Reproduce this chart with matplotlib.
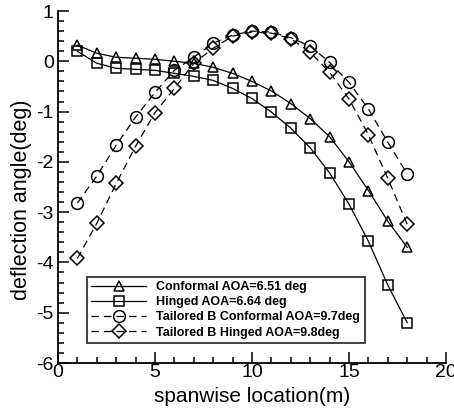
import matplotlib
matplotlib.use("Agg")
import matplotlib.pyplot as plt
from matplotlib.ticker import MultipleLocator

plt.rcParams['font.family'] = ['Liberation Sans', 'DejaVu Sans']
plt.rcParams['axes.unicode_minus'] = False

span = [1, 2, 3, 4, 5, 6, 7, 8, 9, 10, 11, 12, 13, 14, 15, 16, 17, 18]
conformal = [0.32, 0.16, 0.08, 0.06, 0.04, 0.0, -0.04, -0.12, -0.24, -0.40, -0.59,
             -0.84, -1.14, -1.50, -2.00, -2.57, -3.18, -3.70]
hinged = [0.20, -0.04, -0.14, -0.16, -0.18, -0.24, -0.30, -0.38, -0.54, -0.74, -1.01,
          -1.33, -1.72, -2.22, -2.84, -3.58, -4.45, -5.20]
tb_conformal = [-2.82, -2.28, -1.67, -1.11, -0.62, -0.18, 0.08, 0.36, 0.52, 0.60, 0.58,
                0.47, 0.30, -0.02, -0.42, -0.95, -1.61, -2.24]
tb_hinged = [-3.92, -3.22, -2.43, -1.69, -1.02, -0.54, -0.04, 0.26, 0.50, 0.58, 0.56,
             0.45, 0.18, -0.22, -0.75, -1.46, -2.33, -3.24]

labels = ["Conformal AOA=6.51 deg", "Hinged AOA=6.64 deg",
          "Tailored B Conformal AOA=9.7deg", "Tailored B Hinged AOA=9.8deg"]

fig = plt.figure(figsize=(4.54, 4.08), dpi=100)
ax = fig.add_axes([58/454, 1-363/408, 388/454, 352/408])

common = dict(color='black', lw=0.9, mfc='none', mec='black', mew=1.1)
ax.plot(span, conformal, marker='^', ms=7.5, ls='-', label=labels[0], **common)
ax.plot(span, hinged, marker='s', ms=7.5, ls='-', label=labels[1], **common)
ax.plot(span, tb_conformal, marker='o', ms=8.5, ls=(0, (6, 4)), label=labels[2], **common)
ax.plot(span, tb_hinged, marker='D', ms=7, ls=(0, (6, 4)), label=labels[3], **common)

ax.set_xlim(0, 20)
ax.set_ylim(-6, 1)
ax.xaxis.set_major_locator(MultipleLocator(5))
ax.xaxis.set_minor_locator(MultipleLocator(1))
ax.yaxis.set_major_locator(MultipleLocator(1))
ax.yaxis.set_minor_locator(MultipleLocator(0.2))
ax.spines['top'].set_visible(False)
ax.spines['right'].set_visible(False)
for s in ('left', 'bottom'):
    ax.spines[s].set_linewidth(1.3)
ax.tick_params(which='both', direction='in', width=1.1, labelsize=14)
ax.tick_params(which='major', length=8)
ax.tick_params(which='minor', length=4)
ax.tick_params(axis='x', pad=1)
ax.tick_params(axis='y', pad=3)

ax.set_xlabel("spanwise location(m)", fontsize=15, labelpad=4)
ax.set_ylabel("deflection angle(deg)", fontsize=15.5)
ax.yaxis.set_label_coords(-0.067, 0.463)

leg = ax.legend(loc='lower left', bbox_to_anchor=(0.075, 0.057), frameon=True,
                prop={'weight': 'bold', 'size': 9}, handlelength=4.4,
                handletextpad=0.8, labelspacing=0.25, borderpad=0.35,
                fancybox=False, borderaxespad=0)
leg.get_frame().set_edgecolor('black')
leg.get_frame().set_linewidth(1.3)

fig.savefig("out.png", dpi=100)
